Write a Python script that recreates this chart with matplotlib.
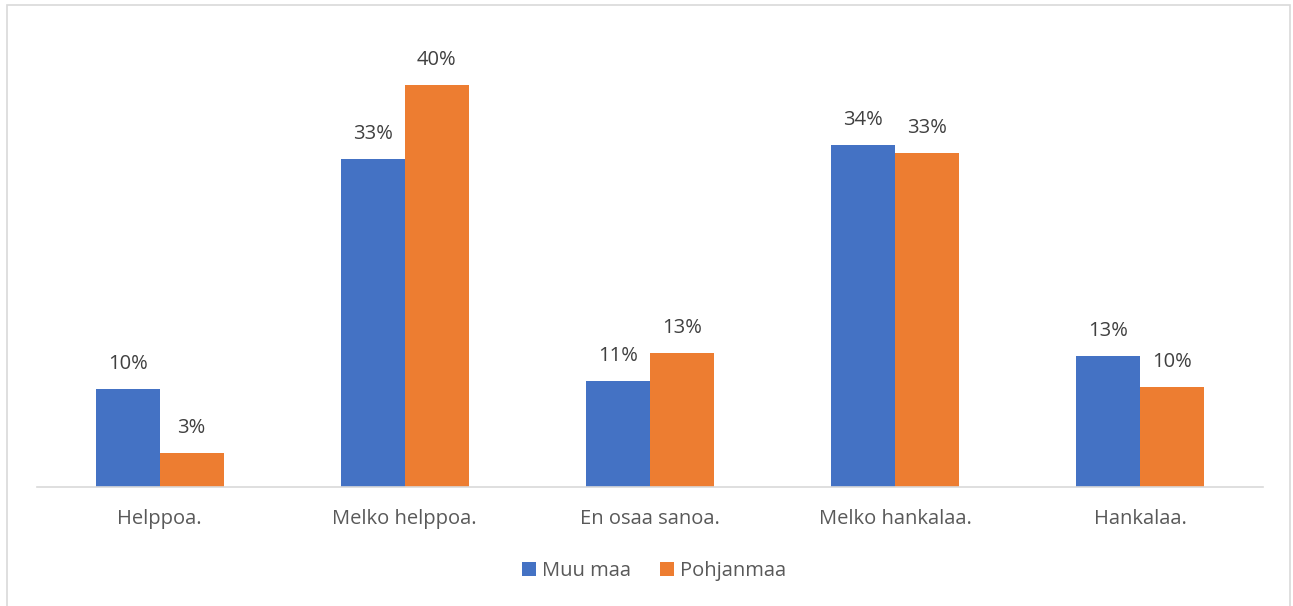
import matplotlib
matplotlib.use("Agg")
import matplotlib.pyplot as plt
import numpy as np
from matplotlib.patches import Rectangle

categories = ["Helppoa.", "Melko helppoa.", "En osaa sanoa.", "Melko hankalaa.", "Hankalaa."]
series_names = ["Muu maa", "Pohjanmaa"]
muu_maa = [9.8, 32.7, 10.6, 34.0, 13.0]
pohjanmaa = [3.4, 40.0, 13.3, 33.3, 10.0]

colors = ["#4472C4", "#ED7D31"]
plt.rcParams["font.family"] = ["Open Sans", "DejaVu Sans"]

fig = plt.figure(figsize=(12.93, 6.06), dpi=100)
ax = fig.add_axes([37 / 1293, 119 / 606, 1226 / 1293, 452 / 606])

x = np.arange(len(categories))
width = 0.261
for i, (vals, name) in enumerate(zip([muu_maa, pohjanmaa], series_names)):
    offs = (i - 0.5) * width
    bars = ax.bar(x + offs, vals, width, color=colors[i], label=name, zorder=2)
    for b, v in zip(bars, vals):
        ax.annotate(f"{v:.0f}%", (b.get_x() + b.get_width() / 2, v),
                    xytext=(0, 18), textcoords="offset points",
                    ha="center", va="center", fontsize=14.5, color="#404040")

ax.set_xlim(-0.5, len(categories) - 0.5)
ax.set_ylim(0, 45)
ax.set_yticks([])
ax.set_xticks(x)
ax.set_xticklabels(categories, fontsize=14.5, color="#595959")
ax.tick_params(axis="x", length=0, pad=16)
for s in ("top", "right", "left"):
    ax.spines[s].set_visible(False)
ax.spines["bottom"].set_color("#D9D9D9")
ax.spines["bottom"].set_linewidth(1.2)

fig.legend(loc="center", bbox_to_anchor=(654 / 1293, 1 - 571 / 606), ncol=2,
           frameon=False, fontsize=14.5, labelcolor="#595959",
           handlelength=0.7, handleheight=0.7, handletextpad=0.3,
           columnspacing=1.4)

fig.add_artist(Rectangle((7 / 1293, -0.05), 1283 / 1293, 1.05 - 5 / 606,
                         transform=fig.transFigure, fill=False,
                         edgecolor="#D9D9D9", linewidth=1.2))

fig.savefig("out.png", dpi=100)
